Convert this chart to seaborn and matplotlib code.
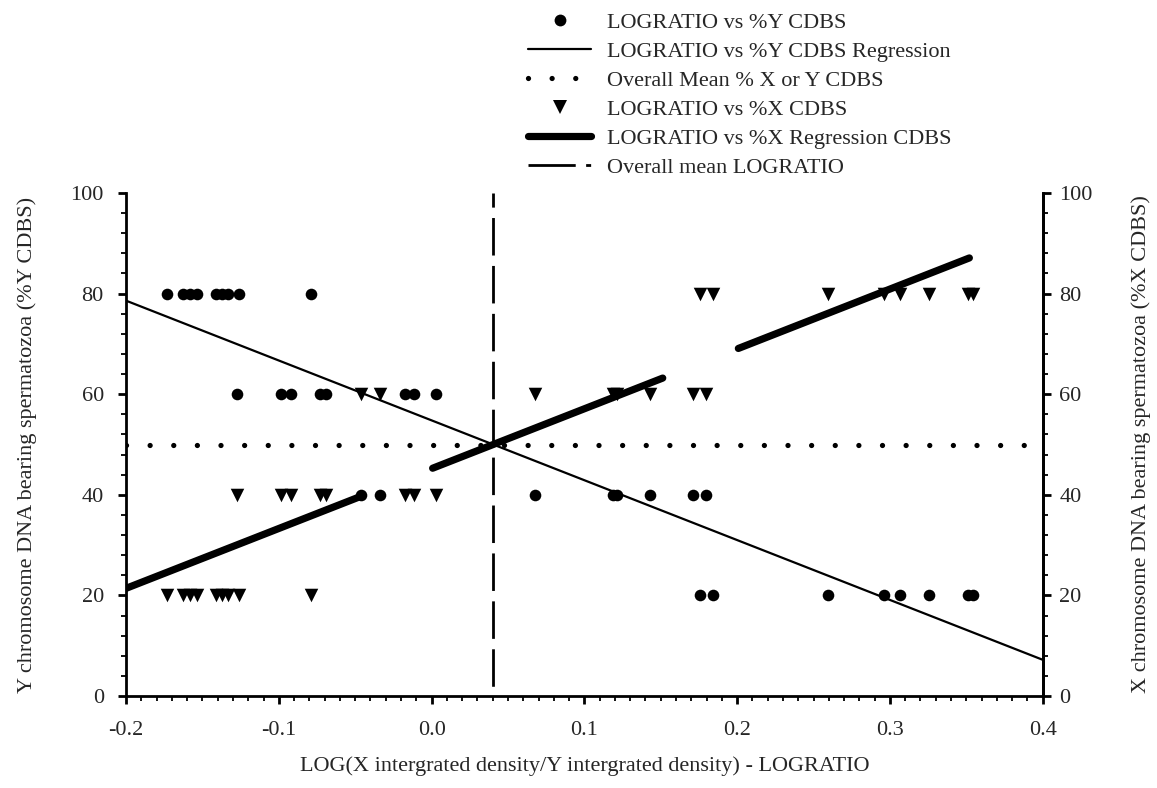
import numpy as np
import pandas as pd
import matplotlib
matplotlib.use("Agg")
import matplotlib.pyplot as plt
from matplotlib.lines import Line2D
import seaborn as sns

# ---------------- data ----------------
lograt = [-0.1732, -0.1624, -0.1578, -0.1535, -0.1408, -0.1372, -0.1332, -0.1260, -0.0786,
          -0.1271, -0.0985, -0.0923, -0.0730, -0.0694, -0.0174, -0.0115, 0.0032,
          -0.0462, -0.0338,
          0.0674, 0.1188, 0.1214, 0.1427, 0.1711, 0.1793,
          0.1760, 0.1839, 0.2597, 0.2961, 0.3069, 0.3259, 0.3511, 0.3544]
pct_y = [80, 80, 80, 80, 80, 80, 80, 80, 80,
         60, 60, 60, 60, 60, 60, 60, 60,
         40, 40,
         40, 40, 40, 40, 40, 40,
         20, 20, 20, 20, 20, 20, 20, 20]
pct_x = [100 - v for v in pct_y]

# regression of %Y on LOGRATIO
y_reg_intercept = 54.8
y_reg_slope = -119.0
x_reg_intercept = 45.2
x_reg_slope = 119.0
# thick %X regression line is drawn in pieces
x_reg_pieces = [(-0.2, -0.0457), (0.0007, 0.1513), (0.2008, 0.352)]
overall_mean_pct = 50
overall_mean_lograt = 0.04

x_ticks = [-0.2, -0.1, 0.0, 0.1, 0.2, 0.3, 0.4]
y_ticks = [0, 20, 40, 60, 80, 100]

legend_labels = ["LOGRATIO vs %Y CDBS",
                 "LOGRATIO vs %Y CDBS Regression",
                 "Overall Mean % X or Y CDBS",
                 "LOGRATIO vs %X CDBS",
                 "LOGRATIO vs %X Regression CDBS",
                 "Overall mean LOGRATIO"]

# ---------------- style ----------------
sns.set_theme(style="ticks")
plt.rcParams["font.family"] = ["Liberation Serif", "DejaVu Serif"]
plt.rcParams["lines.scale_dashes"] = False
FS = 16

fig = plt.figure(figsize=(11.57, 7.88), dpi=100)
ax = fig.add_axes([126 / 1157, 1 - 696 / 788, (1042.7 - 126) / 1157, (696 - 193) / 788])

df = pd.DataFrame({"lograt": lograt, "pct_y": pct_y, "pct_x": pct_x})

# regression lines
xr = np.array([-0.2, 0.4])
dfy = pd.DataFrame({"x": xr, "y": y_reg_intercept + y_reg_slope * xr})
sns.lineplot(data=dfy, x="x", y="y", ax=ax, color="black", lw=1.6, zorder=3)

for a, b in x_reg_pieces:
    xs = np.array([a, b])
    dfx = pd.DataFrame({"x": xs, "y": x_reg_intercept + x_reg_slope * xs})
    sns.lineplot(data=dfx, x="x", y="y", ax=ax, color="black", lw=5.2,
                 solid_capstyle="round", zorder=4)

# overall mean %  (dotted)
dfm = pd.DataFrame({"x": xr, "y": [overall_mean_pct, overall_mean_pct]})
ax.plot(dfm["x"], dfm["y"], color="black", lw=3.8, ls=(0, (0.01, 17.0)),
        dash_capstyle="round", zorder=2)

# overall mean LOGRATIO (dashed vertical)
ax.axvline(overall_mean_lograt, color="black", lw=2.0, ls=(-7, (27, 7.5)), zorder=2)

# scatter points
sns.scatterplot(data=df, x="lograt", y="pct_y", ax=ax, marker="o", s=70,
                color="black", edgecolor="black", linewidth=0, zorder=5)
sns.scatterplot(data=df, x="lograt", y="pct_x", ax=ax, marker="v", s=95,
                color="black", edgecolor="black", linewidth=0, zorder=5)

ax.set_xlim(-0.2, 0.4)
ax.set_ylim(0, 100)
ax.set_xticks(x_ticks)
ax.set_xticklabels([f"{t:.1f}" for t in x_ticks])
ax.set_yticks(y_ticks)
ax.set_xticks(np.arange(-0.2, 0.4001, 0.01), minor=True)
ax.set_yticks(np.arange(0, 100.01, 4), minor=True)

ax.set_xlabel("LOG(X intergrated density/Y intergrated density) - LOGRATIO",
              fontsize=FS, labelpad=12)
ax.set_ylabel("Y chromosome DNA bearing spermatozoa (%Y CDBS)", fontsize=FS, labelpad=24)

for s in ["left", "bottom", "right"]:
    ax.spines[s].set_linewidth(2.0)
    ax.spines[s].set_color("black")
ax.spines["top"].set_visible(False)

ax.tick_params(axis="x", which="major", direction="out", length=6, width=2,
               labelsize=FS, color="black", pad=12)
ax.tick_params(axis="y", which="major", direction="out", length=6, width=2,
               labelsize=FS, color="black", pad=10)
ax.tick_params(axis="both", which="minor", direction="out", length=3.5, width=1.3,
               color="black")
ax.tick_params(axis="y", which="both", right=False)

ax2 = ax.twinx()
ax2.set_ylim(0, 100)
ax2.set_yticks(y_ticks)
ax2.set_yticks(np.arange(0, 100.01, 4), minor=True)
ax2.set_ylabel("X chromosome DNA bearing spermatozoa (%X CDBS)", fontsize=FS,
               labelpad=28)
for s in ["left", "bottom", "top"]:
    ax2.spines[s].set_visible(False)
ax2.spines["right"].set_linewidth(2.0)
ax2.spines["right"].set_color("black")
ax2.tick_params(axis="y", which="major", direction="out", length=6, width=2,
                labelsize=FS, color="black", pad=6)
ax2.tick_params(axis="y", which="minor", direction="out", length=3.5, width=1.3,
                color="black")
ax2.grid(False)

# legend
handles = [
    Line2D([], [], marker="o", ls="none", color="black", markersize=8.5, markeredgewidth=0),
    Line2D([], [], color="black", lw=1.6),
    Line2D([], [], color="black", lw=3.8, ls=(0, (0.01, 17.0)), dash_capstyle="round"),
    Line2D([], [], marker="v", ls="none", color="black", markersize=10, markeredgewidth=0),
    Line2D([], [], color="black", lw=5.2, solid_capstyle="round"),
    Line2D([], [], color="black", lw=2.0, ls=(0, (34, 7.5, 3.6, 7.5))),
]
fig.legend(handles, legend_labels, loc="upper left",
           bbox_to_anchor=(528 / 1157, 1 - 12 / 788), frameon=False,
           fontsize=FS, handlelength=2.85, handletextpad=0.7, labelspacing=0.38,
           borderpad=0, borderaxespad=0)

fig.savefig("out.png", dpi=100)
